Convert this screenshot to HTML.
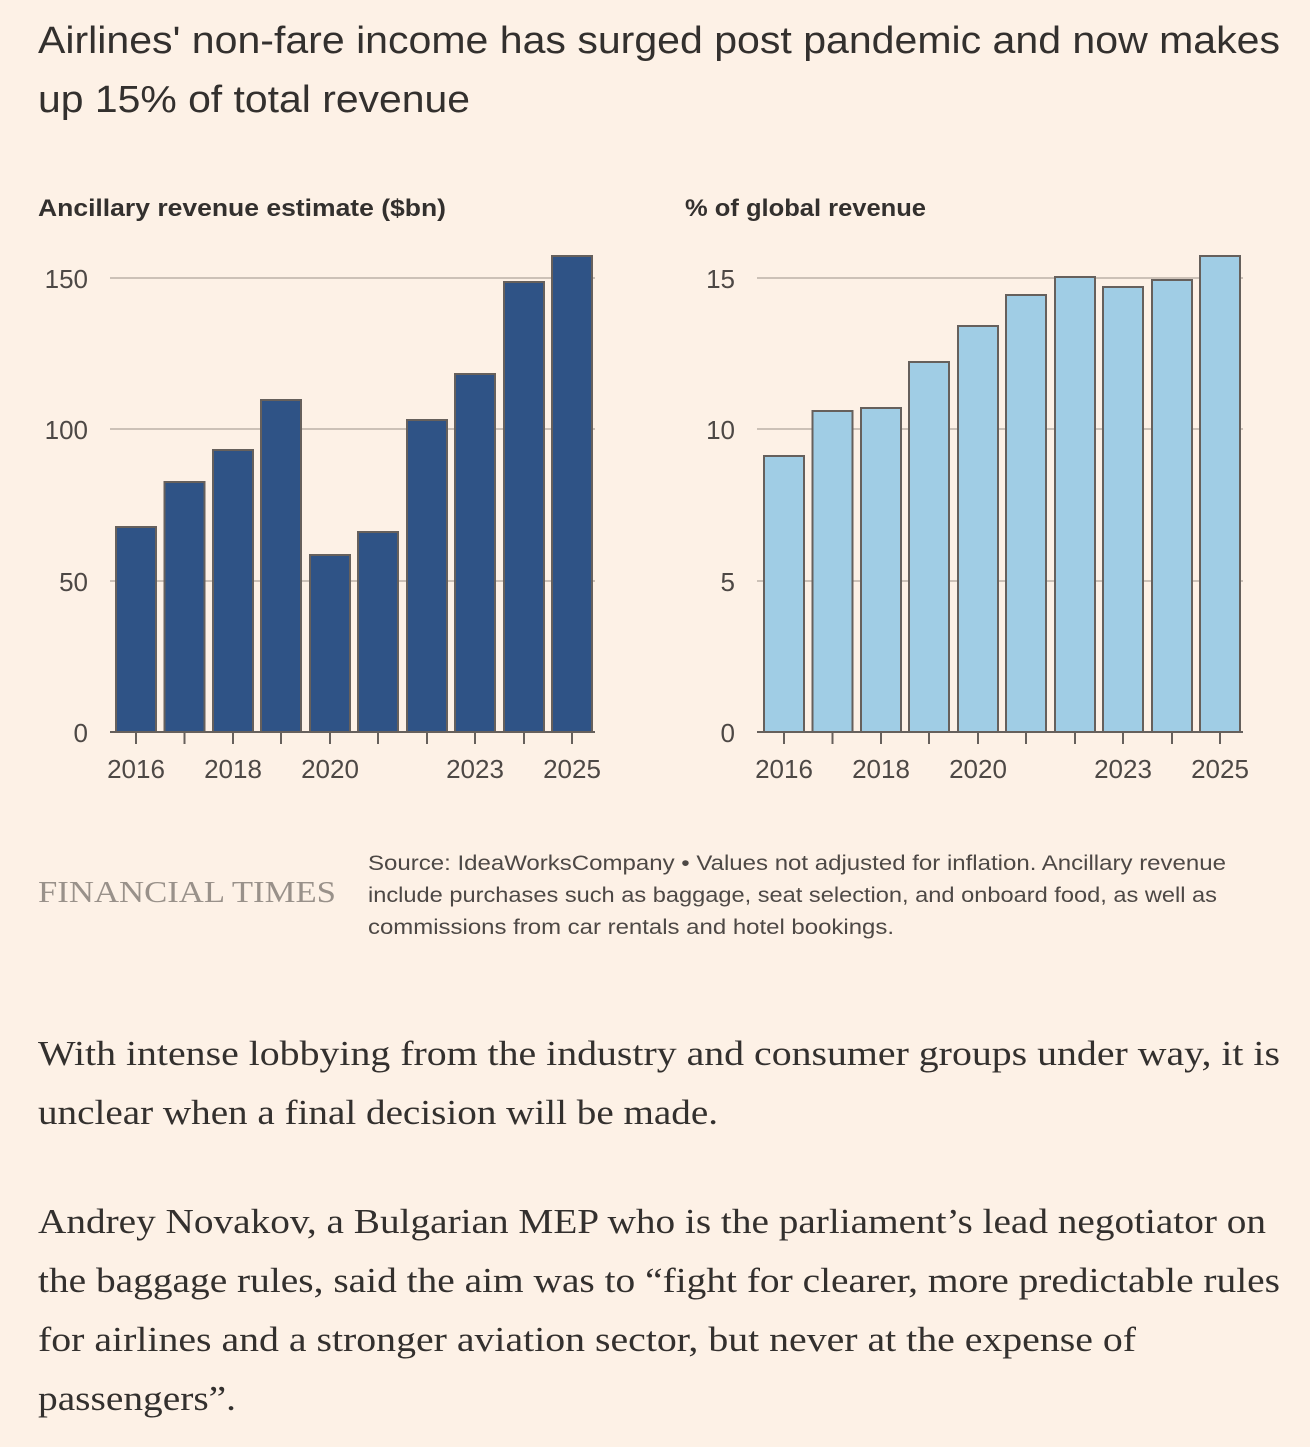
<!DOCTYPE html>
<html><head><meta charset="utf-8"><style>
body{margin:0;background:#fdf1e6;width:1310px;height:1447px;overflow:hidden}
</style></head><body>
<svg width="1310" height="1447" style="position:absolute;left:0;top:0" font-family="Liberation Sans, sans-serif">
<g font-size="38" fill="#33302e" lengthAdjust="spacingAndGlyphs">
<text x="38" y="53" textLength="1242" lengthAdjust="spacingAndGlyphs">Airlines' non-fare income has surged post pandemic and now makes</text>
<text x="38" y="112" textLength="432" lengthAdjust="spacingAndGlyphs">up 15% of total revenue</text>
</g>
<text x="38" y="216" font-size="24" font-weight="bold" fill="#33302e" textLength="408" lengthAdjust="spacingAndGlyphs">Ancillary revenue estimate ($bn)</text>
<text x="685" y="216" font-size="24" font-weight="bold" fill="#33302e" textLength="241" lengthAdjust="spacingAndGlyphs">% of global revenue</text>
<g stroke="#ccc1b7" stroke-width="2">
<line x1="110" x2="595" y1="278" y2="278"/><line x1="110" x2="595" y1="429" y2="429"/><line x1="110" x2="595" y1="581" y2="581"/>
<line x1="757" x2="1243" y1="278" y2="278"/><line x1="757" x2="1243" y1="429" y2="429"/><line x1="757" x2="1243" y1="581" y2="581"/>
</g>
<g font-size="26" fill="#4d4845" text-anchor="end">
<text x="88" y="288">150</text><text x="88" y="439">100</text><text x="88" y="591">50</text><text x="88" y="742">0</text>
<text x="735" y="288">15</text><text x="735" y="439">10</text><text x="735" y="591">5</text><text x="735" y="742">0</text>
</g>
<g fill="#2f5386" stroke="#66605c" stroke-width="2">
<rect x="116" y="527" width="40" height="205"/>
<rect x="164.5" y="482" width="40" height="250"/>
<rect x="213" y="450" width="40" height="282"/>
<rect x="261" y="400" width="40" height="332"/>
<rect x="310" y="555" width="40" height="177"/>
<rect x="358" y="532" width="40" height="200"/>
<rect x="407" y="420" width="40" height="312"/>
<rect x="455" y="374" width="40" height="358"/>
<rect x="504" y="282" width="40" height="450"/>
<rect x="552" y="256" width="40" height="476"/>
</g>
<g fill="#a0cde5" stroke="#66605c" stroke-width="2">
<rect x="764" y="456" width="40" height="276"/>
<rect x="812.5" y="411" width="40" height="321"/>
<rect x="861" y="408" width="40" height="324"/>
<rect x="909" y="362" width="40" height="370"/>
<rect x="958" y="326" width="40" height="406"/>
<rect x="1006" y="295" width="40" height="437"/>
<rect x="1055" y="277" width="40" height="455"/>
<rect x="1103" y="287" width="40" height="445"/>
<rect x="1152" y="280" width="40" height="452"/>
<rect x="1200" y="256" width="40" height="476"/>
</g>
<g stroke="#66605c" stroke-width="2">
<line x1="110" x2="595" y1="732" y2="732"/><line x1="757" x2="1243" y1="732" y2="732"/>
<path d="M136 732v12M184.5 732v12M233 732v12M281 732v12M330 732v12M378 732v12M427 732v12M475 732v12M524 732v12M572 732v12"/>
<path d="M784 732v12M832.5 732v12M881 732v12M929 732v12M978 732v12M1026 732v12M1075 732v12M1123 732v12M1172 732v12M1220 732v12"/>
</g>
<g font-size="26" fill="#4d4845" text-anchor="middle">
<text x="136" y="778">2016</text><text x="233" y="778">2018</text><text x="330" y="778">2020</text><text x="475" y="778">2023</text><text x="572" y="778">2025</text>
<text x="784" y="778">2016</text><text x="881" y="778">2018</text><text x="978" y="778">2020</text><text x="1123" y="778">2023</text><text x="1220" y="778">2025</text>
</g>
<text x="38" y="902" font-family="Liberation Serif, serif" font-size="31" fill="#99918a" textLength="298" lengthAdjust="spacingAndGlyphs">FINANCIAL TIMES</text>
<g font-size="21" fill="#4d4845">
<text x="368" y="870" textLength="858" lengthAdjust="spacingAndGlyphs">Source: IdeaWorksCompany • Values not adjusted for inflation. Ancillary revenue</text>
<text x="368" y="902" textLength="849" lengthAdjust="spacingAndGlyphs">include purchases such as baggage, seat selection, and onboard food, as well as</text>
<text x="368" y="934" textLength="526" lengthAdjust="spacingAndGlyphs">commissions from car rentals and hotel bookings.</text>
</g>
<g font-family="Liberation Serif, serif" font-size="35" fill="#33302e">
<text x="38" y="1065" textLength="1242" lengthAdjust="spacingAndGlyphs">With intense lobbying from the industry and consumer groups under way, it is</text>
<text x="38" y="1124" textLength="680" lengthAdjust="spacingAndGlyphs">unclear when a final decision will be made.</text>
<text x="38" y="1233" textLength="1228" lengthAdjust="spacingAndGlyphs">Andrey Novakov, a Bulgarian MEP who is the parliament’s lead negotiator on</text>
<text x="38" y="1292" textLength="1242" lengthAdjust="spacingAndGlyphs">the baggage rules, said the aim was to “fight for clearer, more predictable rules</text>
<text x="38" y="1351" textLength="1098" lengthAdjust="spacingAndGlyphs">for airlines and a stronger aviation sector, but never at the expense of</text>
<text x="38" y="1410" textLength="198" lengthAdjust="spacingAndGlyphs">passengers”.</text>
</g>
</svg>
</body></html>
